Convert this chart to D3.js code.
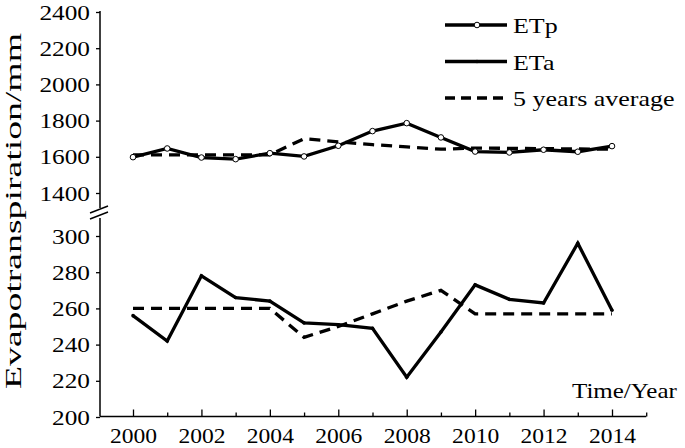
<!DOCTYPE html>
<html>
<head>
<meta charset="utf-8">
<script src="https://cdn.jsdelivr.net/npm/d3@7"></script>
<style>
  body { margin: 0; background: #fff; }
  svg { display: block; }
  text { font-family: 'Liberation Serif', serif; }
</style>
</head>
<body>
<script>
const width = 685;
const height = 448;

// Data
const years = [2000, 2001, 2002, 2003, 2004, 2005, 2006, 2007, 2008, 2009, 2010, 2011, 2012, 2013, 2014];
const etp = [1598, 1646, 1596, 1587, 1620, 1602, 1661, 1742, 1786, 1707, 1629, 1624, 1639, 1628, 1659];
const etpAvg = [1611, 1611, 1611, 1611, 1611, 1700, 1683, 1667, 1655, 1642, 1648, 1647, 1645, 1643, 1642];
const eta = [256, 242, 278, 266, 264, 252, 251, 249, 222, 247, 273, 265, 263, 296, 259];
const etaAvg = [260, 260, 260, 260, 260, 244, 250, 257, 264, 270, 257, 257, 257, 257, 257];

const upperTicks = [1400, 1600, 1800, 2000, 2200, 2400];
const lowerTicks = [200, 220, 240, 260, 280, 300];
const xTicks = [2000, 2001, 2002, 2003, 2004, 2005, 2006, 2007, 2008, 2009, 2010, 2011, 2012, 2013, 2014, 2015];

const legendItems = [
  { label: 'ETp', dash: null, marker: 'circle' },
  { label: 'ETa', dash: null, marker: 'dot' },
  { label: '5 years average', dash: '10,6', marker: null },
];

const font = 'Liberation Serif';

const svg = d3.select('body')
  .append('svg')
  .attr('width', width)
  .attr('height', height);

svg.append('rect').attr('width', width).attr('height', height).attr('fill', '#fff');

// scales
const x = d3.scaleLinear().domain([2000, 2014]).range([133, 612]);
const yUp = d3.scaleLinear().domain([1400, 2400]).range([193, 12]);
const yLow = d3.scaleLinear().domain([200, 300]).range([417, 236]);

const axisX = 100;
const axisY = 416.5;

// widen glyphs like the source figure
function stretch(sel, k) {
  sel.each(function () {
    const len = this.getComputedTextLength();
    d3.select(this).attr('textLength', len * k).attr('lengthAdjust', 'spacingAndGlyphs');
  });
}

// y axes (two segments with a break)
function drawY(scale, ticks, y0, y1) {
  const g = svg.append('g').attr('transform', `translate(${axisX},0)`);
  g.call(
    d3.axisLeft(scale)
      .tickValues(ticks)
      .tickSize(4)
      .tickPadding(6)
      .tickSizeOuter(0)
      .tickFormat(d3.format('d'))
  );
  g.attr('font-family', font).attr('font-size', 22);
  g.select('.domain').remove();
  g.selectAll('.tick line').attr('stroke', '#000').attr('stroke-width', 1.3);
  g.selectAll('.tick text')
    .attr('fill', '#000')
    .call(stretch, 1.15);
  g.append('line')
    .attr('x1', 0).attr('x2', 0)
    .attr('y1', y0).attr('y2', y1)
    .attr('stroke', '#000').attr('stroke-width', 1.5);
}
drawY(yUp, upperTicks, 11, 208);
drawY(yLow, lowerTicks, 218, axisY);

// break marks
[0, 6].forEach((dy) => {
  svg.append('line')
    .attr('x1', axisX - 10).attr('y1', 213 + dy)
    .attr('x2', axisX + 8).attr('y2', 206 + dy)
    .attr('stroke', '#000').attr('stroke-width', 1.4);
});

// x axis
const gx = svg.append('g').attr('transform', `translate(0,${axisY})`);
gx.call(
  d3.axisBottom(x)
    .tickValues(xTicks)
    .tickSize(-7)
    .tickFormat((d) => (d % 2 === 0 && d <= 2014 ? d : ''))
);
gx.attr('font-family', font).attr('font-size', 22);
gx.select('.domain').remove();
gx.append('line')
  .attr('x1', axisX).attr('x2', x(2015))
  .attr('stroke', '#000').attr('stroke-width', 1.5);
gx.selectAll('.tick line')
  .attr('stroke', '#000')
  .attr('stroke-width', 1.3)
  .attr('y2', (d) => (d % 2 === 0 ? -7 : -4));
gx.selectAll('.tick text')
  .attr('fill', '#000')
  .attr('y', 26.5)
  .attr('dy', null)
  .call(stretch, 1.07);

// lines
function drawLine(values, yScale, dash) {
  const line = d3.line()
    .x((d, i) => x(years[i]))
    .y((d) => yScale(d));
  svg.append('path')
    .datum(values)
    .attr('d', line)
    .attr('fill', 'none')
    .attr('stroke', '#000')
    .attr('stroke-width', 3.3)
    .attr('stroke-linejoin', 'miter')
    .attr('stroke-dasharray', dash);
}

drawLine(etpAvg, yUp, '11,7');
drawLine(etaAvg, yLow, '11,7');
drawLine(etp, yUp, null);
drawLine(eta, yLow, null);

// ETp markers
svg.append('g')
  .selectAll('circle')
  .data(etp)
  .join('circle')
  .attr('cx', (d, i) => x(years[i]))
  .attr('cy', (d) => yUp(d))
  .attr('r', 2.8)
  .attr('fill', '#fff')
  .attr('stroke', '#000')
  .attr('stroke-width', 1);

// ETa markers (small dots)
svg.append('g')
  .selectAll('circle')
  .data(eta)
  .join('circle')
  .attr('cx', (d, i) => x(years[i]))
  .attr('cy', (d) => yLow(d))
  .attr('r', 1.8)
  .attr('fill', '#000');

// legend
const legend = svg.append('g').attr('font-family', font).attr('font-size', 22);
legendItems.forEach((item, i) => {
  const cy = 25 + i * 36.5;
  legend.append('line')
    .attr('x1', 445).attr('x2', 507)
    .attr('y1', cy).attr('y2', cy)
    .attr('stroke', '#000')
    .attr('stroke-width', 3.3)
    .attr('stroke-dasharray', item.dash);
  if (item.marker === 'circle') {
    legend.append('circle')
      .attr('cx', 477).attr('cy', cy).attr('r', 2.8)
      .attr('fill', '#fff').attr('stroke', '#000').attr('stroke-width', 1);
  } else if (item.marker === 'dot') {
    legend.append('circle')
      .attr('cx', 477).attr('cy', cy).attr('r', 1.8)
      .attr('fill', '#000');
  }
  legend.append('text')
    .attr('x', 513)
    .attr('y', cy + 8)
    .attr('fill', '#000')
    .text(item.label)
    .call(stretch, 1.18);
});

// axis titles
svg.append('text')
  .attr('x', 572)
  .attr('y', 398)
  .attr('fill', '#000')
  .attr('font-family', font)
  .attr('font-size', 21)
  .text('Time/Year')
  .call(stretch, 1.19);

svg.append('text')
  .attr('transform', 'translate(21,211) rotate(-90)')
  .attr('text-anchor', 'middle')
  .attr('fill', '#000')
  .attr('font-family', font)
  .attr('font-size', 24)
  .text('Evapotranspiration/mm')
  .attr('textLength', 356)
  .attr('lengthAdjust', 'spacingAndGlyphs');
</script>
</body>
</html>
